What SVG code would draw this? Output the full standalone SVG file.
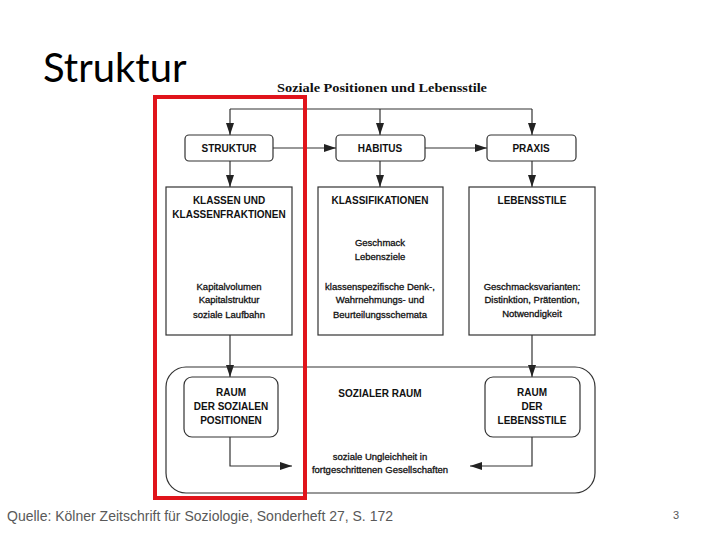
<svg xmlns="http://www.w3.org/2000/svg" width="720" height="540" viewBox="0 0 720 540">
<style>
.box{fill:#fff;stroke:#333;stroke-width:1.2}
.ln{fill:none;stroke:#333;stroke-width:1.2}
.t{font-family:"Liberation Sans",Arial,sans-serif;font-size:10px;fill:#111;text-anchor:middle;font-weight:bold}
.s{font-family:"Liberation Sans",Arial,sans-serif;font-size:9.5px;fill:#111;stroke:#111;stroke-width:0.3;text-anchor:middle}
</style>
<defs>
<marker id="ah" viewBox="0 0 12 8" refX="12" refY="4" markerWidth="12" markerHeight="8" markerUnits="userSpaceOnUse" orient="auto">
<path d="M0,0 L12,4 L0,8 Z" fill="#222"/>
</marker>
</defs>
<rect width="720" height="540" fill="#fff"/>
<text x="43" y="82" font-family="Lato,'Open Sans',sans-serif" font-size="40" fill="#000">Struktur</text>
<text x="382" y="92" font-family="'Liberation Serif','Times New Roman',serif" font-weight="bold" font-size="12.5" text-anchor="middle" fill="#111" textLength="210" lengthAdjust="spacingAndGlyphs">Soziale Positionen und Lebensstile</text>

<g id="connectors">
<path class="ln" d="M230,109 H532"/>
<path class="ln" d="M230,109 V135" marker-end="url(#ah)"/>
<path class="ln" d="M380,109 V135" marker-end="url(#ah)"/>
<path class="ln" d="M532,109 V135" marker-end="url(#ah)"/>
<path class="ln" d="M273,148 H336" marker-end="url(#ah)"/>
<path class="ln" d="M425,148 H487" marker-end="url(#ah)"/>
<path class="ln" d="M230,161 V187" marker-end="url(#ah)"/>
<path class="ln" d="M380,161 V187" marker-end="url(#ah)"/>
<path class="ln" d="M532,161 V187" marker-end="url(#ah)"/>
<path class="ln" d="M230,335 V377" marker-end="url(#ah)"/>
<path class="ln" d="M532,335 V377" marker-end="url(#ah)"/>
<path class="ln" d="M230,437 V466 H292" marker-end="url(#ah)"/>
<path class="ln" d="M532,437 V466 H470" marker-end="url(#ah)"/>
</g>

<g id="sozialer-raum">
<rect class="ln" x="166" y="367" width="429" height="126" rx="20"/>
<text class="t" x="380" y="397">SOZIALER RAUM</text>
<text class="s" x="380" y="460">soziale Ungleichheit in</text>
<text class="s" x="380" y="473">fortgeschrittenen Gesellschaften</text>
</g>

<g id="struktur">
<rect class="box" x="185" y="135" width="88" height="26" rx="4"/>
<text class="t" x="229" y="152">STRUKTUR</text>
</g>
<g id="habitus">
<rect class="box" x="336" y="135" width="89" height="26" rx="4"/>
<text class="t" x="380" y="152">HABITUS</text>
</g>
<g id="praxis">
<rect class="box" x="487" y="135" width="89" height="26" rx="4"/>
<text class="t" x="531" y="152">PRAXIS</text>
</g>

<g id="klassen">
<rect class="box" x="166" y="187" width="126" height="148"/>
<text class="t" x="229" y="204">KLASSEN UND</text>
<text class="t" x="229" y="218">KLASSENFRAKTIONEN</text>
<text class="s" x="229" y="290">Kapitalvolumen</text>
<text class="s" x="229" y="303">Kapitalstruktur</text>
<text class="s" x="229" y="318">soziale Laufbahn</text>
</g>
<g id="klassifikationen">
<rect class="box" x="318" y="187" width="125" height="148"/>
<text class="t" x="380" y="204">KLASSIFIKATIONEN</text>
<text class="s" x="380" y="246">Geschmack</text>
<text class="s" x="380" y="260">Lebensziele</text>
<text class="s" x="380" y="290">klassenspezifische Denk-,</text>
<text class="s" x="380" y="303">Wahrnehmungs- und</text>
<text class="s" x="380" y="318">Beurteilungsschemata</text>
</g>
<g id="lebensstile">
<rect class="box" x="469" y="187" width="126" height="148"/>
<text class="t" x="532" y="204">LEBENSSTILE</text>
<text class="s" x="532" y="290">Geschmacksvarianten:</text>
<text class="s" x="532" y="303">Distinktion, Prätention,</text>
<text class="s" x="532" y="317">Notwendigkeit</text>
</g>

<g id="raum-positionen">
<rect class="box" x="184" y="377" width="94" height="60" rx="8"/>
<text class="t" x="231" y="396">RAUM</text>
<text class="t" x="231" y="410">DER SOZIALEN</text>
<text class="t" x="231" y="424">POSITIONEN</text>
</g>
<g id="raum-lebensstile">
<rect class="box" x="485" y="377" width="95" height="60" rx="8"/>
<text class="t" x="532" y="396">RAUM</text>
<text class="t" x="532" y="410">DER</text>
<text class="t" x="532" y="424">LEBENSSTILE</text>
</g>

<rect x="155" y="97" width="150" height="401" fill="none" stroke="#e0141b" stroke-width="4"/>

<text x="7" y="521" font-family="'Liberation Sans',Arial,sans-serif" font-size="14" fill="#595959">Quelle: Kölner Zeitschrift für Soziologie, Sonderheft 27, S. 172</text>
<text x="673" y="519" font-family="'Liberation Sans',Arial,sans-serif" font-size="11" fill="#595959">3</text>
</svg>
